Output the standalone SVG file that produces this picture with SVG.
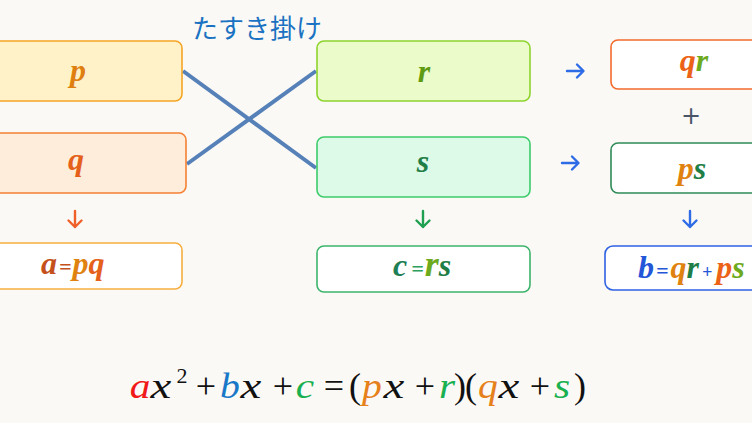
<svg xmlns="http://www.w3.org/2000/svg" width="752" height="423" viewBox="0 0 752 423">
<style>
.box{stroke-width:1.6}
.lbl{font-family:"Liberation Serif","DejaVu Serif",serif;font-style:italic;font-weight:bold;font-size:32px;text-anchor:middle}
.st{text-anchor:start}
.eq{font-family:"Liberation Serif","DejaVu Serif",serif;font-size:36px;fill:#111;text-anchor:middle}
.eq .i{font-style:italic}
.arr{fill:none;stroke-width:2.4;stroke-linecap:round;stroke-linejoin:round}
</style>
<rect width="752" height="423" fill="#FBF9F5"/>
<text x="257" y="38" font-family="'Noto Sans CJK JP',sans-serif" font-size="26" fill="#1A72C2" text-anchor="middle">たすき掛け</text>
<g id="connectors" stroke="#5580B8" stroke-width="4" stroke-linecap="butt">
<line x1="183" y1="71" x2="316" y2="168"/>
<line x1="187" y1="164" x2="316" y2="71"/>
</g>
<g id="node-p"><rect class="box" x="-10" y="41" width="192" height="60" rx="7" fill="#FFF2C9" stroke="#F5A524"/><text class="lbl" x="78" y="81" fill="#DF7F10">p</text></g>
<g id="node-q"><rect class="box" x="-10" y="133" width="196" height="60" rx="7" fill="#FDEDDA" stroke="#F58033"/><text class="lbl" x="76" y="170" fill="#E5601A">q</text></g>
<g id="node-r"><rect class="box" x="317" y="41" width="213" height="60" rx="7" fill="#EBFBC9" stroke="#8ED42E"/><text class="lbl" x="424" y="82" fill="#5E9A12">r</text></g>
<g id="node-s"><rect class="box" x="317" y="137" width="213" height="60" rx="7" fill="#DDF9E7" stroke="#3DCB6B"/><text class="lbl" x="423" y="172" fill="#1E7E45">s</text></g>
<g id="node-qr"><rect class="box" x="611" y="40" width="150" height="49" rx="7" fill="#FFFFFF" stroke="#F26B2C"/><text class="lbl" x="694" y="71"><tspan fill="#EC6318">q</tspan><tspan fill="#6EAA1E">r</tspan></text></g>
<g id="node-ps"><rect class="box" x="611" y="143" width="150" height="50" rx="7" fill="#FFFFFF" stroke="#2E8B57"/><text class="lbl" x="692" y="179"><tspan fill="#E0820F">p</tspan><tspan fill="#1E7E45">s</tspan></text></g>
<g id="node-a"><rect class="box" x="-10" y="243" width="192" height="46" rx="7" fill="#FFFFFF" stroke="#F7AE3E"/><text class="lbl st" x="41" y="274" font-size="36"><tspan fill="#C4501B">a</tspan><tspan fill="#C4501B" font-size="22" dx="2">=</tspan><tspan fill="#E0820F" dx="1">p</tspan><tspan fill="#E5601A">q</tspan></text></g>
<g id="node-c"><rect class="box" x="317" y="246" width="213" height="46" rx="7" fill="#FFFFFF" stroke="#3CB46B"/><text class="lbl st" x="393" y="276" font-size="32"><tspan fill="#1E7E55">c</tspan><tspan fill="#2EA060" font-size="22" dx="4">=</tspan><tspan fill="#6EAA1E" font-size="36" dx="1">r</tspan><tspan fill="#1E7E45">s</tspan></text></g>
<g id="node-b"><rect class="box" x="605" y="246" width="160" height="44" rx="8" fill="#FFFFFF" stroke="#2E62E3"/><text class="lbl st" x="638" y="278" font-size="34"><tspan fill="#2456D8">b</tspan><tspan fill="#2456D8" font-size="22" dx="2">=</tspan><tspan fill="#E0820F" dx="2">q</tspan><tspan fill="#1E7E45">r</tspan><tspan fill="#2456D8" font-size="18" dx="3">+</tspan><tspan fill="#EC6318" dx="4">p</tspan><tspan fill="#6EAA1E">s</tspan></text></g>
<g id="arrows">
<path class="arr" stroke="#2E6BE6" d="M567 71H583M577 64.5L583.5 71L577 77.5"/>
<path class="arr" stroke="#2E6BE6" d="M562 163H578M572 156.5L578.5 163L572 169.5"/>
<path class="arr" stroke="#F0602A" d="M75 211V227M68.5 220.5L75 227L81.5 220.5"/>
<path class="arr" stroke="#1FA050" d="M423 211V227M416.5 220.5L423 227L429.5 220.5"/>
<path class="arr" stroke="#2E6BE6" d="M690 211V227M683.5 220.5L690 227L696.5 220.5"/>
<text x="691" y="124" font-family="'DejaVu Sans',sans-serif" font-size="24" fill="#4A5568" text-anchor="middle">+</text>
</g>
<g class="eq">
<text transform="translate(140 398) scale(1.15 1)" class="i" style="fill:#F01818">a</text>
<text transform="translate(161 398) scale(1.3 1)" class="i">x</text>
<text x="182" y="383" font-size="22">2</text>
<text x="206" y="398">+</text>
<text transform="translate(230 398) scale(1.1 1)" class="i" style="fill:#1878C8">b</text>
<text transform="translate(251 398) scale(1.3 1)" class="i">x</text>
<text x="283" y="398">+</text>
<text transform="translate(305 398) scale(1.15 1)" class="i" style="fill:#18B050">c</text>
<text x="334" y="398">=</text>
<text x="355" y="398">(</text>
<text transform="translate(372 398) scale(1.1 1)" class="i" style="fill:#E5801A">p</text>
<text transform="translate(394 398) scale(1.3 1)" class="i">x</text>
<text x="425" y="398">+</text>
<text transform="translate(447 398) scale(1.15 1)" class="i" style="fill:#18B050">r</text>
<text x="460" y="398">)</text>
<text x="471" y="398">(</text>
<text transform="translate(488 398) scale(1.1 1)" class="i" style="fill:#E5801A">q</text>
<text transform="translate(509 398) scale(1.3 1)" class="i">x</text>
<text x="540" y="398">+</text>
<text transform="translate(562 398) scale(1.15 1)" class="i" style="fill:#18B050">s</text>
<text x="580" y="398">)</text>
</g>
</svg>
